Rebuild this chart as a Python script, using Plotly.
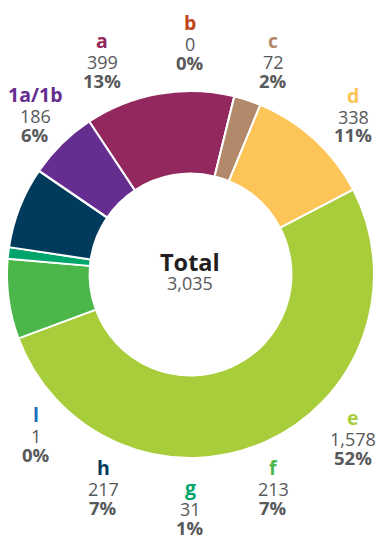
import plotly.graph_objects as go

# Category data (clockwise order around the ring, starting with "a")
categories = ["a", "b", "c", "d", "e", "f", "g", "h", "l", "1a/1b"]
counts = [399, 0, 72, 338, 1578, 213, 31, 217, 1, 186]
percent_labels = ["13%", "0%", "2%", "11%", "52%", "7%", "1%", "7%", "0%", "6%"]
colors = ["#93285e", "#c2461c", "#b3896b", "#fdc457", "#a8cd3a",
          "#4bb74b", "#00a56b", "#003b5c", "#1b72b8", "#662d91"]

total = sum(counts)

W, H = 377, 535

# Label positions (pixels): x centre and y centre of the category name;
# the count and the percentage sit underneath it
label_pos = {
    "a": (102, 40), "b": (190, 22), "c": (273, 40), "d": (353, 95),
    "e": (353, 417), "f": (273, 467), "g": (190, 487), "h": (103, 467),
    "l": (36, 414), "1a/1b": (35, 94),
}

fig = go.Figure()

# Ring geometry in pixels
cx, cy, r = 190.5, 274.5, 183.5
fig.add_trace(go.Pie(
    labels=categories,
    values=counts,
    sort=False,
    direction="clockwise",
    rotation=-33.5,
    hole=0.55,
    marker=dict(colors=colors, line=dict(color="white", width=2)),
    textinfo="none",
    hoverinfo="label+value+percent",
    showlegend=False,
    domain=dict(x=[(cx - r) / W, (cx + r) / W],
                y=[1 - (cy + r) / H, 1 - (cy - r) / H]),
))

FONT = "Open Sans, Lato, sans-serif"
GREY = "#58595b"


def px_x(x):
    return x / W


def px_y(y):
    return 1 - y / H


def label(x, y, text, size, color):
    return dict(x=px_x(x), y=px_y(y), xref="paper", yref="paper",
                text=text, showarrow=False,
                font=dict(family=FONT, size=size, color=color),
                xanchor="center", yanchor="middle", borderpad=0)


annotations = []
for cat, cnt, pct, col in zip(categories, counts, percent_labels, colors):
    x, y = label_pos[cat]
    annotations.append(label(x, y, f"<b>{cat}</b>", 19.5, col))
    annotations.append(label(x, y + 22, f"{cnt:,}", 18, GREY))
    annotations.append(label(x, y + 40, f"<b>{pct}</b>", 18.5, GREY))

# Centre total
annotations.append(label(190, 262, "<b>Total</b>", 23.5, "#231f20"))
annotations.append(label(190, 283, f"{total:,}", 18, GREY))

fig.update_layout(
    width=W, height=H,
    margin=dict(l=0, r=0, t=0, b=0),
    paper_bgcolor="white",
    plot_bgcolor="white",
    annotations=annotations,
)

fig.write_html("out.html")
